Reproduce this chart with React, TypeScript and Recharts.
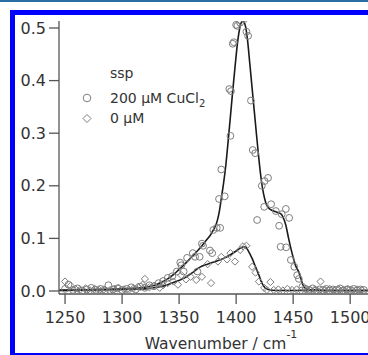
import React from "react";
import { ComposedChart, Line, Scatter, XAxis, YAxis } from "recharts";

// 200 uM CuCl2, measured points
const wn200 = [
  1250, 1253, 1257, 1261, 1265, 1269, 1273, 1277, 1281, 1285, 1288, 1292, 1296, 1300, 1304, 1308,
  1312, 1316, 1320, 1324, 1328, 1332, 1336, 1340, 1344, 1348, 1351, 1352, 1354, 1357, 1362, 1364,
  1366, 1368, 1370, 1371, 1377, 1379, 1380, 1383, 1385, 1386, 1387, 1390, 1395, 1394, 1395.5, 1397,
  1398, 1400, 1401, 1403.5, 1407, 1409, 1410.5, 1413, 1414.6, 1416.7, 1418.4, 1422.5, 1424.6, 1425,
  1428, 1430.7, 1434.8, 1437.7, 1439, 1440, 1443.6, 1443.8, 1446.5, 1448, 1451, 1453.5, 1455, 1458,
  1461, 1464, 1467, 1470, 1473, 1476, 1479, 1482, 1485, 1488, 1491, 1494, 1497, 1500, 1503, 1506,
  1509, 1512,
];
const abs200 = [
  0.004, 0.012, 0.002, 0.005, 0.001, 0.003, 0.006, 0.002, 0.004, 0.001, 0.011, 0.003, 0.005, 0.002, 0.004, 0.007,
  0.003, 0.008, 0.006, 0.011, 0.009, 0.015, 0.019, 0.025, 0.028, 0.037, 0.054, 0.049, 0.037, 0.063, 0.072, 0.065,
  0.037, 0.065, 0.09, 0.086, 0.077, 0.072, 0.116, 0.12, 0.175, 0.12, 0.231, 0.18, 0.295, 0.384, 0.38, 0.47,
  0.473, 0.506, 0.504, 0.51, 0.517, 0.493, 0.485, 0.362, 0.268, 0.262, 0.135, 0.2, 0.16, 0.209,
  0.215, 0.165, 0.152, 0.124, 0.084, 0.146, 0.156, 0.083, 0.139, 0.059, 0.046, 0.03, 0.023, 0.008,
  0.004, 0.002, 0.005, 0.001, 0.003, 0.002, 0.004, 0.001, 0.003, 0.002, 0.005, 0.001, 0.003, 0.002, 0.004, 0.001,
  0.003, 0.002,
];

// 0 uM, measured points
const wn0 = [
  1250, 1255, 1259, 1263, 1268, 1272, 1276, 1280, 1284, 1289, 1293, 1297, 1302, 1306, 1310, 1314,
  1318, 1320, 1324, 1328, 1333, 1336, 1340, 1345, 1349, 1352, 1356, 1360, 1365, 1370, 1375, 1378,
  1384, 1387, 1392, 1395, 1399, 1403.5, 1406, 1409, 1414, 1417, 1420, 1424.6, 1427, 1430, 1433, 1437,
  1441, 1445, 1449, 1453, 1457, 1461, 1465, 1469, 1474, 1478, 1482, 1486, 1490, 1494, 1498, 1502,
  1506, 1510,
];
const abs0 = [
  0.018, 0.01, 0.004, 0.002, 0.005, 0.001, 0.004, 0.002, 0.003, 0.001, 0.004, 0.006, 0.003, 0.002, 0.005, 0.008,
  0.012, 0.023, 0.007, 0.01, 0.006, 0.011, 0.015, 0.018, 0.012, 0.03, 0.022, 0.027, 0.021, 0.027, 0.051, 0.015,
  0.056, 0.065, 0.06, 0.072, 0.056, 0.078, 0.085, 0.086, 0.046, 0.035, 0.018, 0.006, 0.002, 0.017, 0.002, 0.003,
  0.001, 0.004, 0.002, 0.003, 0.001, 0.004, 0.002, 0.003, 0.018, 0.002, 0.004, 0.001, 0.003, 0.002, 0.004, 0.001,
  0.003, 0.002,
];

// fitted curves
const fitWn200 = [
  1245, 1260, 1280, 1300, 1310, 1320, 1325, 1330, 1335, 1340, 1345, 1350, 1354, 1358, 1362, 1366,
  1370, 1374, 1378, 1380, 1383, 1385, 1387, 1389, 1391, 1393, 1395, 1397, 1399, 1401, 1403, 1405,
  1406, 1408, 1410, 1412, 1414, 1416, 1418, 1420, 1422, 1424, 1426, 1428, 1430, 1434, 1439, 1441,
  1443.6, 1446, 1448, 1450, 1452, 1455.3, 1457, 1459.6, 1463, 1470, 1490, 1520,
];
const fitAbs200 = [
  0.002, 0.002, 0.003, 0.004, 0.005, 0.007, 0.009, 0.012, 0.017, 0.023, 0.031, 0.041, 0.049, 0.058, 0.067, 0.076,
  0.086, 0.097, 0.108, 0.116, 0.13, 0.148, 0.176, 0.205, 0.24, 0.285, 0.332, 0.38, 0.425, 0.468, 0.498, 0.512,
  0.513, 0.505, 0.477, 0.432, 0.386, 0.34, 0.294, 0.25, 0.212, 0.185, 0.168, 0.159, 0.155, 0.151, 0.147, 0.141,
  0.125, 0.1, 0.081, 0.064, 0.049, 0.034, 0.022, 0.007, 0.003, 0.002, 0.001, 0.001,
];
const fitWn0 = [
  1245, 1280, 1300, 1320, 1330, 1339, 1346, 1354, 1361, 1368, 1375, 1382, 1389, 1395, 1400, 1404,
  1406.5, 1408.5, 1411, 1414, 1417, 1420, 1422, 1424.6, 1428, 1435, 1460, 1520,
];
const fitAbs0 = [
  0.001, 0.002, 0.003, 0.004, 0.007, 0.011, 0.017, 0.024, 0.034, 0.045, 0.051, 0.056, 0.062, 0.069, 0.076, 0.082,
  0.084, 0.083, 0.075, 0.062, 0.046, 0.03, 0.018, 0.008, 0.003, 0.001, 0.001, 0.001,
];

const xTicks = [1250, 1300, 1350, 1400, 1450, 1500];
const yTicks = [0, 0.1, 0.2, 0.3, 0.4, 0.5];

const pts200 = wn200.map((x, i) => ({ x, y: abs200[i] }));
const pts0 = wn0.map((x, i) => ({ x, y: abs0[i] }));
const fit200 = fitWn200.map((x, i) => ({ x, y: fitAbs200[i] }));
const fit0 = fitWn0.map((x, i) => ({ x, y: fitAbs0[i] }));

const font = "'DejaVu Sans', sans-serif";
const markerColor = "#7d7d7d";
const axisColor = "#555";

const CircleMark = (props: any) => (
  <circle cx={props.cx} cy={props.cy} r={3.4} fill="none" stroke={markerColor} strokeWidth={1} />
);

const DiamondMark = (props: any) => {
  const { cx, cy } = props;
  const s = 3.6;
  return (
    <polygon
      points={`${cx},${cy - s} ${cx + s},${cy} ${cx},${cy + s} ${cx - s},${cy}`}
      fill="none"
      stroke={markerColor}
      strokeWidth={1}
    />
  );
};

const AxisTitle = (props: any) => {
  const { viewBox } = props;
  return (
    <text x={221} y={viewBox.y + 55} textAnchor="middle" fontFamily={font} fontSize={15.5} fill="#333">
      Wavenumber / cm
      <tspan fontSize={11} dy={-11}>-1</tspan>
    </text>
  );
};

export default function App() {
  return (
    <div
      style={{
        position: "absolute",
        left: 0,
        top: 0,
        width: 368,
        height: 355,
        overflow: "hidden",
        background: "#fff",
      }}
    >
      {/* frame of the original figure */}
      <div style={{ position: "absolute", left: 0, top: 0, width: 368, height: 1.5, background: "#2b6ea6" }} />
      <div style={{ position: "absolute", left: 10, top: 10, width: 358, height: 5, background: "#0000ff" }} />
      <div style={{ position: "absolute", left: 10, top: 10, width: 5, height: 345, background: "#0000ff" }} />
      <div style={{ position: "absolute", left: 10, top: 352.5, width: 358, height: 2, background: "#0000ff" }} />

      <ComposedChart
        width={380}
        height={355}
        margin={{ top: 21, right: 7, left: 0, bottom: 0 }}
        style={{ position: "absolute", left: 0, top: 0 }}
      >
        <XAxis
          dataKey="x"
          type="number"
          domain={[1244.7, 1520]}
          ticks={xTicks}
          allowDataOverflow
          height={61}
          tickSize={10}
          tickMargin={8}
          stroke={axisColor}
          strokeWidth={1.3}
          tick={{ fill: "#333", fontSize: 16, fontFamily: font }}
          label={<AxisTitle />}
        />
        <YAxis
          type="number"
          domain={[-0.0057, 0.5133]}
          ticks={yTicks}
          allowDataOverflow
          width={59}
          tickSize={10}
          tickMargin={3}
          stroke={axisColor}
          strokeWidth={1.3}
          tickFormatter={(v: number) => v.toFixed(1)}
          tick={{ fill: "#333", fontSize: 16, fontFamily: font }}
        />
        <Scatter data={pts200} dataKey="y" shape={<CircleMark />} isAnimationActive={false} />
        <Scatter data={pts0} dataKey="y" shape={<DiamondMark />} isAnimationActive={false} />
        <Line
          data={fit200}
          dataKey="y"
          type="monotone"
          stroke="#1a1a1a"
          strokeWidth={1.6}
          dot={false}
          activeDot={false}
          isAnimationActive={false}
        />
        <Line
          data={fit0}
          dataKey="y"
          type="monotone"
          stroke="#1a1a1a"
          strokeWidth={1.6}
          dot={false}
          activeDot={false}
          isAnimationActive={false}
        />
      </ComposedChart>

      {/* legend */}
      <svg width={160} height={60} style={{ position: "absolute", left: 78, top: 66 }}>
        <g fontFamily={font} fontSize={14} fill="#333">
          <text x={32} y={12}>ssp</text>
          <circle cx={9} cy={32} r={3.8} fill="none" stroke={markerColor} strokeWidth={1} />
          <text x={32} y={36.5}>
            200 µM CuCl<tspan fontSize={10} dy={4}>2</tspan>
          </text>
          <polygon points="9,48.5 13,52.5 9,56.5 5,52.5" fill="none" stroke={markerColor} strokeWidth={1} />
          <text x={32} y={57}>0 µM</text>
        </g>
      </svg>
    </div>
  );
}
